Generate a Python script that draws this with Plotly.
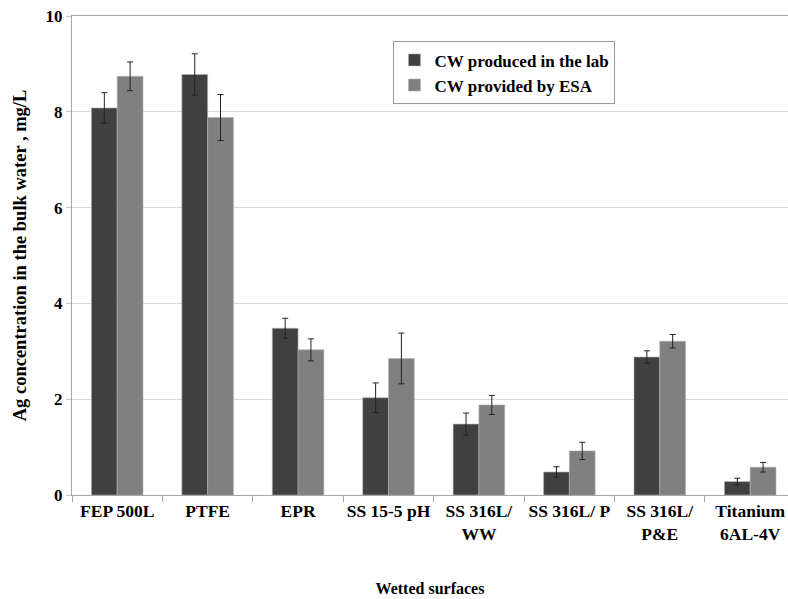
import plotly.graph_objects as go

categories = ["FEP 500L", "PTFE", "EPR", "SS 15-5 pH", "SS 316L/<br>WW",
              "SS 316L/ P", "SS 316L/<br>P&E", "Titanium<br>6AL-4V"]
lab_values = [8.08, 8.78, 3.48, 2.03, 1.48, 0.48, 2.88, 0.28]
lab_errors = [0.32, 0.43, 0.21, 0.31, 0.23, 0.11, 0.13, 0.07]
esa_values = [8.74, 7.88, 3.03, 2.85, 1.88, 0.92, 3.21, 0.58]
esa_errors = [0.30, 0.48, 0.23, 0.53, 0.20, 0.18, 0.14, 0.10]
y_ticks = [0, 2, 4, 6, 8, 10]

FONT = "Liberation Serif"

fig = go.Figure()
fig.add_trace(go.Bar(
    x=categories, y=lab_values, name="CW produced in the lab",
    marker=dict(color="#404040", line=dict(color="#b0b0b0", width=0.6)),
    error_y=dict(type="data", array=lab_errors, color="#222222", thickness=1, width=3),
))
fig.add_trace(go.Bar(
    x=categories, y=esa_values, name="CW provided by ESA",
    marker=dict(color="#808080", line=dict(color="#b0b0b0", width=0.6)),
    error_y=dict(type="data", array=esa_errors, color="#222222", thickness=1, width=3),
))

fig.update_layout(
    width=788, height=599,
    margin=dict(l=72, r=0, t=16, b=104),
    paper_bgcolor="white", plot_bgcolor="white",
    barmode="group", bargap=0.43, bargroupgap=0,
    font=dict(family=FONT, color="black"),
    legend=dict(
        x=0.449, y=0.947, xanchor="left", yanchor="top",
        bordercolor="#999999", borderwidth=1,
        font=dict(family=FONT, size=17, color="black", weight="bold"),
        itemwidth=30, tracegroupgap=0,
    ),
    showlegend=True,
)

fig.update_xaxes(
    type="category", range=[-0.5, 7.418], automargin=False, tickangle=0,
    showline=True, linecolor="#a6a6a6", linewidth=1, mirror=True,
    ticks="outside", tickson="boundaries", ticklen=6, tickcolor="#a6a6a6",
    tickfont=dict(family=FONT, size=17.5, color="black", weight="bold"),
    title=dict(text="Wetted surfaces", standoff=40,
               font=dict(family=FONT, size=16, color="black", weight="bold")),
    showgrid=False,
)
fig.update_yaxes(
    range=[0, 10], tickvals=y_ticks, automargin=False,
    showline=True, linecolor="#a6a6a6", linewidth=1,
    ticks="outside", ticklen=5, tickcolor="#c8c8c8",
    showgrid=True, gridcolor="#d9d9d9", gridwidth=1,
    tickfont=dict(family=FONT, size=17, color="black", weight="bold"),
    title=dict(text="Ag concentration in the bulk water , mg/L", standoff=14,
               font=dict(family=FONT, size=18.5, color="black", weight="bold")),
    zeroline=False,
)

fig.write_html(
    "out.html",
    config={"displayModeBar": False},
    post_script="document.body.style.margin='0';document.body.style.overflow='hidden';",
)
